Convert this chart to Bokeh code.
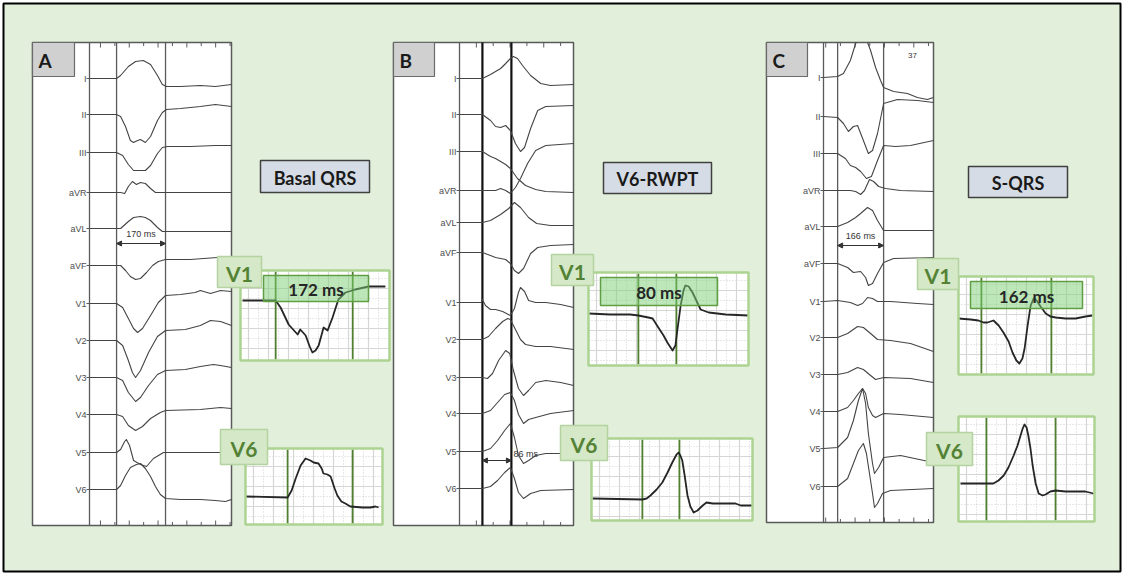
import numpy as np
from bokeh.plotting import figure
from bokeh.models import Range1d, Arrow, NormalHead
from bokeh.core.properties import value
from bokeh.embed import file_html
from bokeh.resources import INLINE

NAN = float("nan")

# ---------------- DATA ----------------
LEADS = ["I", "II", "III", "aVR", "aVL", "aVF", "V1", "V2", "V3", "V4", "V5", "V6"]
PANEL_NAMES = ["A", "B", "C"]
PANEL_TITLES = ["Basal QRS", "V6-RWPT", "S-QRS"]
PANEL_CALIPER_ONSET_MS = [94, 68, 51]
PANEL_CALIPER_MS = [170, 86, 166]
INSET_V1_ONSET_MS = [74, 105, 53]
INSET_V1_QRS_MS = [172, 80, 162]
INSET_V6_CALIPERS_MS = [(94, 239), (105, 183), (60, 220)]
PAGE_NUMBER_C = "37"

# traces: (time ms, amplitude in 0.1 mV-like units)
A_I = [(0,0),(94,0),(108,.3),(135,1.2),(160,1.7),(187,1.8),(212,1.4),(236,.3),(253,-.6),(267,-.8),(316,-.8),(385,-.7),(437,-.8),(493,-.6)]
A_II = [(0,0),(94,0),(108,-.2),(125,-1.2),(142,-2.6),(153,-2.8),(167,-2.6),(177,-2.5),(194,-2.8),(212,-2.2),(236,-.6),(253,.2),(267,.5),(316,.6),(385,.8),(437,1.0),(493,.8)]
A_III = [(0,0),(94,0),(115,-.3),(135,-1.2),(153,-1.8),(177,-1.8),(194,-1.8),(212,-1.3),(236,-.1),(253,.5),(271,.6),(350,.6),(437,.7),(493,.7)]
A_aVR = [(0,0),(108,0),(122,-.1),(135,.6),(149,1.1),(163,.8),(177,1.0),(194,.9),(212,.4),(229,0),(264,0),(493,0)]
A_aVL = [(0,0),(108,0),(135,.7),(153,1.1),(177,1.2),(194,1.1),(212,.8),(236,.1),(253,-.3),(281,-.3),(493,-.3)]
A_aVF = [(0,0),(108,0),(125,-.5),(142,-1.1),(160,-1.4),(177,-1.3),(198,-.7),(219,0),(239,.4),(264,.6),(350,.6),(444,.8),(493,.8)]
A_V1 = [(0,0),(94,0),(115,-.4),(135,-1.5),(153,-2.5),(167,-2.9),(184,-2.5),(212,-1.2),(239,.1),(264,.8),(316,.9),(367,1.1),(385,1.3),(420,1.0),(455,1.3),(493,1.2)]
A_V2 = [(0,0),(94,0),(115,-.5),(135,-2.0),(149,-3.2),(160,-3.7),(177,-3.0),(205,-1.2),(236,.4),(264,1.0),(333,1.1),(385,1.5),(420,2.0),(455,1.9),(493,1.5)]
A_V3 = [(0,0),(94,0),(115,-.3),(135,-1.5),(160,-2.4),(177,-2.0),(205,-.8),(236,.3),(264,.7),(333,.8),(385,1.1),(430,1.3),(455,1.2),(493,1.0)]
A_V4 = [(0,0),(94,0),(115,-.2),(135,-1.1),(160,-1.6),(184,-1.2),(212,-.4),(246,.2),(264,.4),(385,.5),(455,.7),(493,.6)]
A_V5 = [(0,0),(94,0),(108,.3),(122,1.1),(128,1.3),(139,.7),(153,-.8),(177,-1.2),(198,-1.4),(222,-.6),(257,0),(493,0)]
A_V6 = [(0,0),(94,0),(108,.4),(125,1.4),(142,2.2),(163,2.5),(177,2.6),(194,2.1),(212,1.3),(229,.3),(246,-.5),(264,-.9),(316,-1.0),(385,-1.0),(437,-1.1),(472,-1.2),(493,-1.0)]

B_I = [(0,0),(68,0),(92,.4),(107,.7),(122,1.0),(137,1.5),(151,2.0),(160,2.2),(172,2.0),(187,1.3),(211,.3),(241,-.5),(270,-.7),(339,-.6)]
B_II = [(0,0),(68,0),(92,-.6),(107,-1.2),(122,-1.3),(137,-1.1),(151,-1.6),(166,-2.9),(181,-3.7),(193,-3.3),(211,-1.4),(232,.4),(256,.8),(339,.9)]
B_III = [(0,0),(68,0),(92,-.5),(107,-.7),(122,-1.0),(137,-1.3),(151,-1.7),(172,-2.7),(196,-3.4),(226,-3.8),(256,-4.0),(339,-4.1)]
B_aVR = [(0,0),(68,0),(107,0),(122,.2),(137,0),(151,-.3),(166,.3),(181,1.2),(202,2.7),(226,4.0),(256,4.5),(339,4.7)]
B_aVL = [(0,0),(68,0),(92,.2),(107,.5),(122,.8),(146,1.4),(163,2.0),(181,1.5),(205,.5),(229,-.1),(270,-.3),(339,-.3)]
B_aVF = [(0,0),(68,0),(92,-.3),(107,-.5),(122,-.6),(137,-.7),(151,-1.1),(163,-1.8),(175,-2.1),(190,-1.6),(211,-.1),(232,.5),(270,.7),(339,.8)]
B_V1 = [(0,0),(65,0),(68,.3),(77,-.3),(92,-.7),(107,-.7),(128,-.9),(151,-1.3),(163,-.6),(175,1.0),(181,1.5),(193,1.1),(205,.2),(226,0),(256,0),(300,-.2),(339,-.5)]
B_V2 = [(0,0),(68,0),(86,.3),(107,1.1),(128,1.8),(143,2.1),(151,2.0),(166,1.0),(181,0),(196,-.5),(226,-.7),(270,-.7),(339,-1.0)]
B_V3 = [(0,0),(68,0),(83,-.1),(98,.4),(116,1.7),(137,2.7),(149,2.4),(160,.7),(175,-1.1),(190,-1.8),(205,-1.3),(226,-.5),(256,-.3),(300,-.5),(339,-.8)]
B_V4 = [(0,0),(68,0),(92,.3),(113,1.1),(134,1.9),(151,2.1),(163,1.3),(175,-.1),(190,-1.0),(205,-.6),(226,-.4),(270,0),(339,.3)]
B_V5 = [(0,0),(68,0),(92,.3),(113,1.1),(134,2.1),(151,2.8),(163,1.4),(175,-.4),(190,-1.2),(205,-.9),(226,-.4),(256,-.2),(339,-.2)]
B_V6 = [(0,0),(68,0),(92,.2),(113,.8),(134,1.6),(151,2.1),(163,1.0),(175,-.4),(190,-1.0),(211,-.5),(241,-.2),(339,-.1)]

C_I = [(0,0),(51,.1),(72,.4),(97,1.7),(116,3.4),(119,3.5),(NAN,NAN),(159,3.5),(170,2.7),(188,1.0),(206,-.3),(217,-1.0),(253,-1.4),(303,-1.6),(339,-2.0),(375,-2.2),(397,-2.0)]
C_II = [(0,0),(51,-.1),(72,-.7),(90,-1.5),(108,-1.0),(123,-.9),(144,-2.4),(162,-3.7),(177,-3.4),(195,-1.7),(217,1.3),(267,1.7),(339,1.6),(397,1.4)]
C_III = [(0,0),(51,0),(79,-.5),(97,-1.2),(116,-1.4),(134,-1.8),(155,-2.5),(173,-2.3),(195,-.7),(217,.8),(260,.7),(314,.8),(397,1.3)]
C_aVR = [(0,0),(97,0),(116,-.1),(134,-.4),(148,0),(166,1.1),(181,.9),(199,.4),(224,.2),(278,0),(397,-.1)]
C_aVL = [(0,0),(51,0),(87,.4),(116,.9),(134,1.3),(159,1.9),(177,1.6),(195,.6),(217,-.4),(278,-.4),(397,-.4)]
C_aVF = [(0,0),(51,0),(87,-.4),(108,-.9),(134,-.8),(152,-1.4),(162,-2.2),(177,-2.0),(195,-1.0),(217,.1),(253,.5),(397,.6)]
C_V1 = [(0,0),(51,.1),(97,-.1),(123,-.4),(141,-.2),(159,.4),(177,.3),(195,0),(242,0),(339,-.2),(397,-.3)]
C_V2 = [(0,0),(51,0),(87,.4),(123,1.1),(144,1.0),(170,.4),(195,-.2),(242,-.3),(314,-.6),(397,-1.4)]
C_V3 = [(0,0),(51,0),(87,.2),(123,.7),(144,.5),(170,-.1),(188,-.5),(217,-.3),(314,-.4),(397,-.8)]
C_V4 = [(0,0),(51,0),(87,.4),(108,1.1),(126,1.8),(141,2.3),(152,1.8),(162,.4),(177,-.4),(188,-.6),(217,-.2),(278,-.3),(397,-.6)]
C_V5 = [(0,0),(51,.1),(87,1.1),(108,2.8),(126,4.8),(141,6.0),(152,4.5),(162,1.5),(177,-1.5),(184,-2.5),(199,-1.9),(217,-.9),(278,-.7),(397,-1.4)]
C_V6 = [(0,0),(51,0),(87,.8),(108,2.3),(126,3.6),(144,4.3),(155,3.3),(166,1.3),(177,-.7),(184,-2.1),(195,-1.7),(213,-.7),(242,-.4),(397,-.2)]

# zoomed inset traces (time ms, amplitude)
IA_V1 = [(0,0),(74,0),(85,-.7),(103,-2.4),(123,-3.4),(129,-2.9),(141,-3.5),(150,-4.6),(156,-5.2),(163,-5.0),(170,-4.5),(181,-2.7),(190,-3.0),(201,-1.7),(214,.1),(230,.8),(252,1.1),(281,1.4),(319,1.4)]
IA_V6 = [(0,.1),(94,0),(103,.7),(112,1.9),(123,3.2),(134,3.9),(145,3.7),(152,3.5),(163,3.4),(170,2.9),(174,2.4),(183,2.3),(190,2.1),(199,.9),(205,.2),(214,-.4),(223,-.6),(234,-.9),(261,-1.0),(279,-1.0),(290,-.9),(297,-1.0)]
IB_V1 = [(0,.1),(46,0),(88,0),(105,-.1),(126,-.3),(135,-.4),(147,-1.3),(158,-2.1),(166,-2.8),(177,-3.6),(183,-3.1),(187,-1.6),(194,.9),(200,2.4),(204,2.9),(211,2.8),(219,2.2),(230,1.1),(236,.5),(253,.2),(289,0),(337,-.1)]
IB_V6 = [(0,.1),(105,0),(114,.1),(122,.4),(135,1.0),(147,1.7),(158,2.7),(168,3.7),(177,4.5),(181,4.7),(185,4.4),(189,3.9),(194,2.4),(200,.4),(206,-.7),(213,-1.3),(221,-1.1),(232,-.6),(240,-.3),(253,-.4),(301,-.4),(312,-.6),(337,-.6)]
IC_V1 = [(0,.1),(28,0),(46,-.1),(58,-.3),(67,-.3),(81,-.1),(93,-.6),(104,-1.3),(116,-2.2),(125,-3.3),(134,-4.1),(141,-4.4),(148,-3.9),(153,-2.9),(160,-.6),(167,1.4),(174,2.1),(181,1.9),(190,1.3),(202,.6),(213,.3),(225,.2),(248,.1),(271,.1),(294,.3),(310,.4)]
IC_V6 = [(0,0),(58,0),(76,0),(88,.3),(100,.8),(111,1.6),(123,2.8),(132,3.8),(139,4.8),(144,5.5),(148,5.9),(153,5.6),(157,4.8),(162,3.5),(167,1.8),(174,0),(181,-1.0),(190,-1.2),(197,-1.1),(208,-.8),(220,-.7),(243,-.8),(266,-.8),(289,-.8),(308,-1.0)]

PANEL_TRACES = [
    [A_I, A_II, A_III, A_aVR, A_aVL, A_aVF, A_V1, A_V2, A_V3, A_V4, A_V5, A_V6],
    [B_I, B_II, B_III, B_aVR, B_aVL, B_aVF, B_V1, B_V2, B_V3, B_V4, B_V5, B_V6],
    [C_I, C_II, C_III, C_aVR, C_aVL, C_aVF, C_V1, C_V2, C_V3, C_V4, C_V5, C_V6],
]
INSET_TRACES = [(IA_V1, IA_V6), (IB_V1, IB_V6), (IC_V1, IC_V6)]

# ---------------- LAYOUT (pixels) ----------------
W, H = 1123, 574
AMP = 10.0
BG = "#e2efda"

PANELS = [
    dict(l=32, r=231, t=42, b=525, ax=89, k=0.288,
         rows=[78, 114, 152, 192, 228, 265, 303, 340, 377, 414, 452, 489],
         tick0=38, tstep=50, cal_color="#5a5a5a", cal_w=1.3, arrow_y=243, tag_r=74,
         title_box=(260, 369, 160, 192), lab_center=True,
         v1_tag=(217, 261, 256, 287), v6_tag=(220, 267, 429, 464),
         v1_box=(240, 389, 270, 360), v1_x=242, v1_k=0.448, v1_base=300, v1_lab=(263, 368, 275, 301),
         v6_box=(245, 382, 448, 524), v6_x=245, v6_k=0.448, v6_base=497),
    dict(l=393, r=573, t=42, b=525, ax=459, k=0.337,
         rows=[78, 114, 151, 190, 222, 252, 302, 339, 377, 413, 451, 488],
         tick0=50, tstep=50, cal_color="#111111", cal_w=2.2, arrow_y=460, tag_r=434,
         title_box=(603, 711, 162, 193), lab_center=False,
         v1_tag=(551, 593, 254, 285), v6_tag=(560, 607, 425, 460),
         v1_box=(588, 748, 272, 365), v1_x=588, v1_k=0.475, v1_base=314, v1_lab=(600, 717, 277, 305),
         v6_box=(591, 752, 438, 520), v6_x=592, v6_k=0.475, v6_base=499),
    dict(l=766, r=933, t=42, b=522, ax=823, k=0.277,
         rows=[77, 116, 153, 190, 226, 263, 301, 337, 374, 411, 448, 486],
         tick0=8, tstep=53, cal_color="#5a5a5a", cal_w=1.3, arrow_y=245, tag_r=807,
         title_box=(968, 1067, 166, 197), lab_center=True,
         v1_tag=(917, 958, 258, 289), v6_tag=(926, 972, 432, 465),
         v1_box=(958, 1093, 276, 374), v1_x=958, v1_k=0.432, v1_base=319, v1_lab=(970, 1082, 281, 308),
         v6_box=(958, 1094, 416, 521), v6_x=960, v6_k=0.432, v6_base=483),
]

p = figure(width=W, height=H, x_range=Range1d(0, W), y_range=Range1d(H, 0),
           output_backend="svg", toolbar_location=None, min_border=0,
           x_axis_location=None, y_axis_location=None)
p.grid.visible = False
p.outline_line_color = None
p.background_fill_color = "white"
p.border_fill_color = "white"

# page background with frame
p.quad(left=[3], right=[1120], top=[3], bottom=[571], fill_color=BG, line_color="black", line_width=2)

TXT = value("Liberation Sans")
BOLD = value("Lato")


def tx(pts, x0, k, base):
    xs = [x0 + t * k for t, a in pts]
    ys = [base - a * AMP for t, a in pts]
    return xs, ys


def inset(box, x0, k, base, pts, cal_ms):
    l, r, t, b = box
    p.quad(left=[l], right=[r], top=[t], bottom=[b], fill_color="white", line_color=None)
    # ECG paper grid
    vx = np.arange(l + 8, r - 2, 10.0)
    hy = np.arange(t + 8, b - 2, 10.0)
    maj_x = [[x, x] for i, x in enumerate(vx) if i % 2 == 0]
    min_x = [[x, x] for i, x in enumerate(vx) if i % 2 == 1]
    maj_y = [[y, y] for i, y in enumerate(hy) if i % 2 == 1]
    min_y = [[y, y] for i, y in enumerate(hy) if i % 2 == 0]
    p.multi_line(xs=maj_x, ys=[[t, b]] * len(maj_x), line_color="#d6d6d6", line_width=1.2)
    p.multi_line(xs=min_x, ys=[[t, b]] * len(min_x), line_color="#d0d0d0", line_width=1, line_dash="1 2")
    p.multi_line(xs=[[l, r]] * len(maj_y), ys=maj_y, line_color="#d6d6d6", line_width=1.2)
    p.multi_line(xs=[[l, r]] * len(min_y), ys=min_y, line_color="#d0d0d0", line_width=1, line_dash="1 2")
    # calipers
    cx = [x0 + c * k for c in cal_ms]
    p.multi_line(xs=[[c, c] for c in cx], ys=[[t + 1, b - 1]] * len(cx), line_color="#4f7f2f", line_width=1.8)
    xs, ys = tx(pts, x0, k, base)
    p.line(xs, ys, line_color="#262626", line_width=1.8, line_join="round")
    p.quad(left=[l], right=[r], top=[t], bottom=[b], fill_color=None, line_color="#add393", line_width=2.5)


for pi, P in enumerate(PANELS):
    l, r, t, b, ax, k = P["l"], P["r"], P["t"], P["b"], P["ax"], P["k"]
    # white recording box
    p.quad(left=[l], right=[r], top=[t], bottom=[b], fill_color="white", line_color="#5a5a5a", line_width=1.5)
    p.line([ax, ax], [t, b], line_color="#5a5a5a", line_width=1.3)
    # time ticks (50 ms)
    tk = np.arange(P["tick0"], (r - ax) / k, P["tstep"])
    txs = [ax + v * k for v in tk]
    lens = [5 if i % 2 == 0 else 3.5 for i in range(len(txs))]
    p.multi_line(xs=[[x, x] for x in txs], ys=[[t, t + ln] for ln in lens], line_color="#5a5a5a", line_width=1)
    p.multi_line(xs=[[x, x] for x in txs], ys=[[b, b - ln] for ln in lens], line_color="#5a5a5a", line_width=1)
    # letter tag
    p.quad(left=[l], right=[P["tag_r"]], top=[t], bottom=[76], fill_color="#d0d0d0", line_color="#6a6a6a", line_width=1.2)
    p.text(x=[l + 6], y=[60], text=[PANEL_NAMES[pi]], text_font=BOLD, text_font_style="bold",
           text_font_size="19px", text_color="#1a1a1a", text_baseline="middle", text_align="left")
    # leads
    rows = P["rows"]
    p.multi_line(xs=[[ax - 3, ax]] * len(rows), ys=[[y, y] for y in rows], line_color="#5a5a5a", line_width=1)
    p.text(x=[ax - 3] * len(rows), y=rows, text=LEADS, text_font=TXT, text_font_size="9px",
           text_color="#4d4d4d", text_align="right", text_baseline="middle")
    # calipers
    c0 = PANEL_CALIPER_ONSET_MS[pi]
    c1 = c0 + PANEL_CALIPER_MS[pi]
    cxs = [ax + c0 * k, ax + c1 * k]
    p.multi_line(xs=[[x, x] for x in cxs], ys=[[t, b]] * 2, line_color=P["cal_color"], line_width=P["cal_w"])
    # traces
    for li, pts in enumerate(PANEL_TRACES[pi]):
        xs, ys = tx(pts, ax, k, rows[li])
        p.line(xs, ys, line_color="#444444", line_width=1.1, line_join="round")
    # caliper arrow & label
    ay = P["arrow_y"]
    p.add_layout(Arrow(x_start=cxs[0], y_start=ay, x_end=cxs[1], y_end=ay, line_color="#333333", line_width=1,
                       start=NormalHead(size=5, fill_color="#333333", line_color="#333333"),
                       end=NormalHead(size=5, fill_color="#333333", line_color="#333333")))
    lab = f"{PANEL_CALIPER_MS[pi]} ms"
    if P["lab_center"]:
        p.text(x=[(cxs[0] + cxs[1]) / 2], y=[ay - 5], text=[lab], text_font=TXT, text_font_size="9px",
               text_color="#333333", text_align="center", text_baseline="bottom")
    else:
        p.text(x=[cxs[1] + 2], y=[ay - 7], text=[lab], text_font=TXT, text_font_size="9px",
               text_color="#333333", text_align="left", text_baseline="middle")
    # title box
    tl, tr, tt, tb = P["title_box"]
    p.quad(left=[tl], right=[tr], top=[tt], bottom=[tb], fill_color="#d6dce5", line_color="#404040", line_width=1.5)
    p.text(x=[(tl + tr) / 2], y=[(tt + tb) / 2 + 1], text=[PANEL_TITLES[pi]], text_font=BOLD,
           text_font_style="bold", text_font_size="18px", text_color="#1a1a1a",
           text_align="center", text_baseline="middle")
    # insets
    v1_pts, v6_pts = INSET_TRACES[pi]
    on = INSET_V1_ONSET_MS[pi]
    inset(P["v1_box"], P["v1_x"], P["v1_k"], P["v1_base"], v1_pts, [on, on + INSET_V1_QRS_MS[pi]])
    inset(P["v6_box"], P["v6_x"], P["v6_k"], P["v6_base"], v6_pts, list(INSET_V6_CALIPERS_MS[pi]))
    ll, lr, lt, lb = P["v1_lab"]
    p.quad(left=[ll], right=[lr], top=[lt], bottom=[lb], fill_color="#7ccf74", fill_alpha=0.5,
           line_color="#5f9e45", line_width=1.5)
    p.text(x=[(ll + lr) / 2], y=[(lt + lb) / 2 + 1], text=[f"{INSET_V1_QRS_MS[pi]} ms"], text_font=BOLD,
           text_font_style="bold", text_font_size="17px", text_color="#262626",
           text_align="center", text_baseline="middle")
    # V1 / V6 tags
    for key, name in (("v1_tag", "V1"), ("v6_tag", "V6")):
        gl, gr, gt, gb = P[key]
        p.quad(left=[gl], right=[gr], top=[gt], bottom=[gb], fill_color="#d5e8c8", line_color="#b4d3a0", line_width=1.5)
        p.text(x=[(gl + gr) / 2], y=[(gt + gb) / 2 + 1], text=[name], text_font=BOLD, text_font_style="bold",
               text_font_size="21px", text_color="#548235", text_align="center", text_baseline="middle")

# page number printed on recording C
p.text(x=[912], y=[55], text=[PAGE_NUMBER_C], text_font=TXT, text_font_size="8px", text_color="#333333",
       text_align="center", text_baseline="middle")

open("out.html", "w").write(file_html(p, INLINE))
